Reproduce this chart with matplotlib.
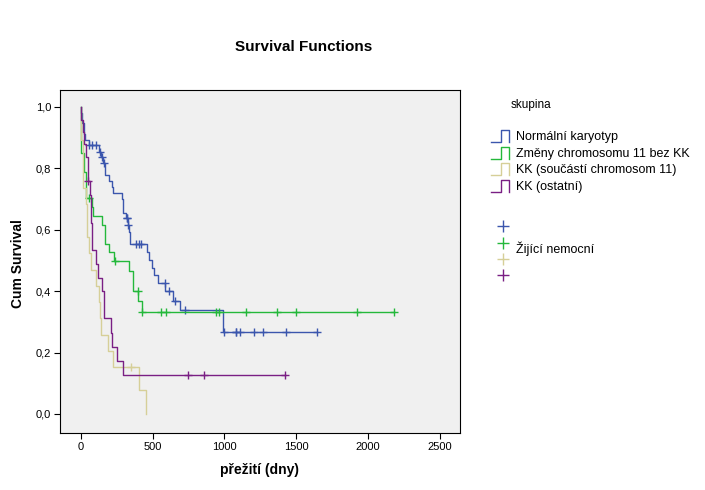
import numpy as np
import matplotlib
matplotlib.use("Agg")
import matplotlib.pyplot as plt
from matplotlib.lines import Line2D

plt.rcParams["font.family"] = ["Liberation Sans", "DejaVu Sans"]

# group names (legend)
groups = [
    "Normální karyotyp",
    "Změny chromosomu 11 bez KK",
    "KK (součástí chromosom 11)",
    "KK (ostatní)",
]
colors = ["#3b56ad", "#24b83b", "#d6cf98", "#7a1f84"]

# step points (days, cum survival)
normal_t = [0, 1, 9, 21, 32, 55, 127, 143, 158, 170, 200, 216, 227, 285, 297,
            317, 326, 334, 345, 459, 477, 494, 512, 540, 589, 644, 693, 993]
normal_s = [1.0, 0.979, 0.947, 0.911, 0.892, 0.876, 0.854, 0.836, 0.816, 0.778,
            0.759, 0.738, 0.718, 0.700, 0.656, 0.637, 0.615, 0.593, 0.552, 0.526,
            0.500, 0.474, 0.451, 0.425, 0.399, 0.369, 0.337, 0.268]
normal_cens = [60, 81, 109, 135, 150, 165, 320, 323, 331, 385, 404, 422, 584,
               617, 658, 728, 1000, 1079, 1083, 1111, 1208, 1271, 1431, 1647]
normal_end = 1647

chr11_t = [0, 5, 25, 39, 81, 88, 150, 169, 199, 234, 338, 366, 401, 429]
chr11_s = [1.0, 0.849, 0.789, 0.702, 0.673, 0.644, 0.615, 0.555, 0.526, 0.497,
           0.464, 0.402, 0.369, 0.333]
chr11_cens = [57, 240, 397, 429, 561, 596, 944, 965, 1152, 1368, 1500, 1925, 2182]
chr11_end = 2182

kk11_t = [0, 2, 18, 39, 46, 60, 74, 109, 125, 136, 143, 192, 227, 408, 457]
kk11_s = [1.0, 0.892, 0.735, 0.683, 0.575, 0.523, 0.470, 0.418, 0.366, 0.314,
          0.258, 0.206, 0.154, 0.077, 0.0]
kk11_cens = [352]
kk11_end = 457

kkost_t = [0, 3, 18, 25, 39, 53, 65, 74, 81, 109, 123, 150, 160, 164, 213, 220,
           255, 297]
kkost_s = [1.0, 0.957, 0.917, 0.878, 0.836, 0.759, 0.713, 0.622, 0.533, 0.488,
           0.444, 0.400, 0.354, 0.311, 0.265, 0.219, 0.174, 0.128]
kkost_cens = [53, 749, 860, 1422]
kkost_end = 1422

curves = [
    (normal_t, normal_s, normal_cens, normal_end),
    (chr11_t, chr11_s, chr11_cens, chr11_end),
    (kk11_t, kk11_s, kk11_cens, kk11_end),
    (kkost_t, kkost_s, kkost_cens, kkost_end),
]

W, H = 705, 490
fig = plt.figure(figsize=(W / 100, H / 100), dpi=100)
ax = fig.add_axes([60 / W, 1 - 432.7 / H, 400 / W, 342.7 / H])
ax.set_facecolor("#f0f0f0")

for (t, s, cens, end), col in zip(curves, colors):
    t = np.array(t + [end], dtype=float)
    s = np.array(s + [s[-1]], dtype=float)
    ax.step(t, s, where="post", color=col, lw=1.0)
    cens = np.array(cens, dtype=float)
    idx = np.searchsorted(t, cens, side="right") - 1
    ax.plot(cens, s[idx], ls="none", marker="+", ms=5.5, mew=1.0, color=col)

ax.set_xlim(-144, 2640)
ax.set_ylim(-0.061, 1.055)
ax.set_xticks(np.arange(0, 2501, 500))
ax.set_yticks(np.arange(0, 1.01, 0.2))
ax.set_yticklabels([f"{v:.1f}".replace(".", ",") for v in np.arange(0, 1.01, 0.2)])
ax.tick_params(direction="out", length=4.5, width=0.8, labelsize=8, pad=2)
for sp in ax.spines.values():
    sp.set_linewidth(0.8)

fig.text(304 / W, 1 - 47 / H, "Survival Functions", ha="center", va="center",
         fontsize=11, fontweight="bold")
fig.text(18 / W, 1 - 264 / H, "Cum Survival", rotation=90, ha="center",
         va="center", fontsize=10, fontweight="bold")
fig.text(260 / W, 1 - 470 / H, "přežití (dny)", ha="center", va="center",
         fontsize=10, fontweight="bold")

# legend drawn by hand
fig.text(511 / W, 1 - 105 / H, "skupina", ha="left", va="center", fontsize=8.5)
leg_y = [137, 154, 170, 187]
for name, col, y in zip(groups, colors, leg_y):
    xs = np.array([491, 501, 501, 509, 509]) / W
    ys = 1 - np.array([y + 5, y + 5, y - 7, y - 7, y + 5]) / H
    fig.add_artist(Line2D(xs, ys, color=col, lw=1.0))
    fig.text(516 / W, 1 - y / H, name, ha="left", va="center", fontsize=9)

cross_y = [226, 242.5, 258.5, 275]
for col, y in zip(colors, cross_y):
    fig.add_artist(Line2D([502.7 / W], [1 - y / H], ls="none", marker="+",
                          ms=9, mew=1.0, color=col))
fig.text(516 / W, 1 - 249 / H, "Žijící nemocní", ha="left", va="center", fontsize=9)

fig.savefig("out.png", dpi=100)
